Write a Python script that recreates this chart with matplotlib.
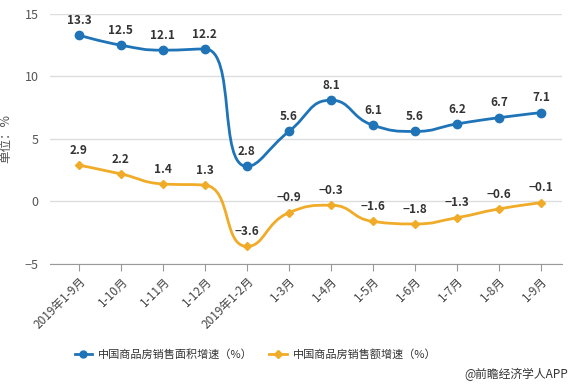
import numpy as np
import matplotlib.pyplot as plt
from matplotlib.path import Path
from matplotlib.patches import PathPatch

plt.rcParams['font.family'] = ['Noto Sans CJK SC', 'DejaVu Sans']

months = ['2019年1-9月', '1-10月', '1-11月', '1-12月', '2019年1-2月', '1-3月',
          '1-4月', '1-5月', '1-6月', '1-7月', '1-8月', '1-9月']
area_growth = [13.3, 12.5, 12.1, 12.2, 2.8, 5.6, 8.1, 6.1, 5.6, 6.2, 6.7, 7.1]
sales_growth = [2.9, 2.2, 1.4, 1.3, -3.6, -0.9, -0.3, -1.6, -1.8, -1.3, -0.6, -0.1]
area_name = '中国商品房销售面积增速（%）'
sales_name = '中国商品房销售额增速（%）'

blue = '#1f74b8'
orange = '#f0ac28'


def smooth_path(ax, xs, ys, smooth=0.5):
    # bezier smoothing like echarts: control points clamped between neighbours,
    # computed in pixel space
    pts = ax.transData.transform(np.column_stack([xs, ys]))
    n = len(pts)
    verts = [pts[0]]
    codes = [Path.MOVETO]
    cp0 = pts[0].copy()
    for i in range(1, n):
        p = pts[i]
        prev = pts[i - 1]
        if i == n - 1:
            cp1 = p.copy()
            nxt_cp = p.copy()
        else:
            nxt = pts[i + 1]
            v = nxt - prev
            len_prev = np.hypot(*(p - prev))
            len_next = np.hypot(*(nxt - p))
            ratio = len_next / (len_next + len_prev)
            nxt_cp = p + v * smooth * ratio
            nxt_cp = np.minimum(nxt_cp, np.maximum(nxt, p))
            nxt_cp = np.maximum(nxt_cp, np.minimum(nxt, p))
            v = nxt_cp - p
            cp1 = p - v * len_prev / len_next
            cp1 = np.minimum(cp1, np.maximum(prev, p))
            cp1 = np.maximum(cp1, np.minimum(prev, p))
            v = p - cp1
            nxt_cp = p + v * len_next / len_prev
        verts += [cp0, cp1, p]
        codes += [Path.CURVE4] * 3
        cp0 = nxt_cp
    verts = ax.transData.inverted().transform(np.array(verts))
    return Path(verts, codes)


def fmt(v):
    s = '%.1f' % abs(v)
    return ('\u2212' + s) if v < 0 else s


fig = plt.figure(figsize=(5.74, 3.87), dpi=100)
ax = fig.add_axes([0.087, 0.318, 0.892, 0.646])

x = np.arange(len(months))
ax.set_xlim(-0.69, 11.5)
ax.set_ylim(-5, 15)

for vals, col, mk, ms in [(area_growth, blue, 'o', 6), (sales_growth, orange, 'D', 4.5)]:
    ax.add_patch(PathPatch(smooth_path(ax, x, vals), fill=False, edgecolor=col, lw=2, zorder=3))
    ax.plot(x, vals, linestyle='none', marker=mk, color=col, markersize=ms, zorder=4)
    for xi, v in zip(x, vals):
        ax.annotate(fmt(v), (xi, v), xytext=(0, 6), textcoords='offset points',
                    ha='center', va='bottom', fontsize=8.5, fontweight='bold',
                    color='#333333', zorder=5)

# legend handles
ax.plot([], [], color=blue, marker='o', markersize=5, lw=2, label=area_name)
ax.plot([], [], color=orange, marker='D', markersize=4, lw=2, label=sales_name)

ax.set_yticks([-5, 0, 5, 10, 15])
ax.set_xticks(x)
ax.set_xticklabels(months, rotation=45, ha='right', va='top', rotation_mode='anchor',
                   fontsize=8.5, color='#444444')
ax.tick_params(axis='y', length=0, labelsize=9, colors='#555555', pad=8)
ax.tick_params(axis='x', length=5, color='#999999', pad=3)
ax.grid(axis='y', color='#dddddd', lw=1)
ax.set_axisbelow(True)
for s in ['top', 'right', 'left']:
    ax.spines[s].set_visible(False)
ax.spines['bottom'].set_color('#999999')

ax.set_ylabel('单位：%', fontsize=9, color='#555555')
ax.yaxis.set_label_coords(-0.074, 0.5)

leg = fig.legend(loc='center', bbox_to_anchor=(0.445, 0.083), ncol=2, frameon=False,
                 fontsize=8, handlelength=1.6, columnspacing=1.5, handletextpad=0.5)
for t in leg.get_texts():
    t.set_color('#333333')

fig.text(0.99, 0.033, '@前瞻经济学人APP', ha='right', va='center', fontsize=8.5, color='#333333')

fig.savefig('out.png', dpi=100)
